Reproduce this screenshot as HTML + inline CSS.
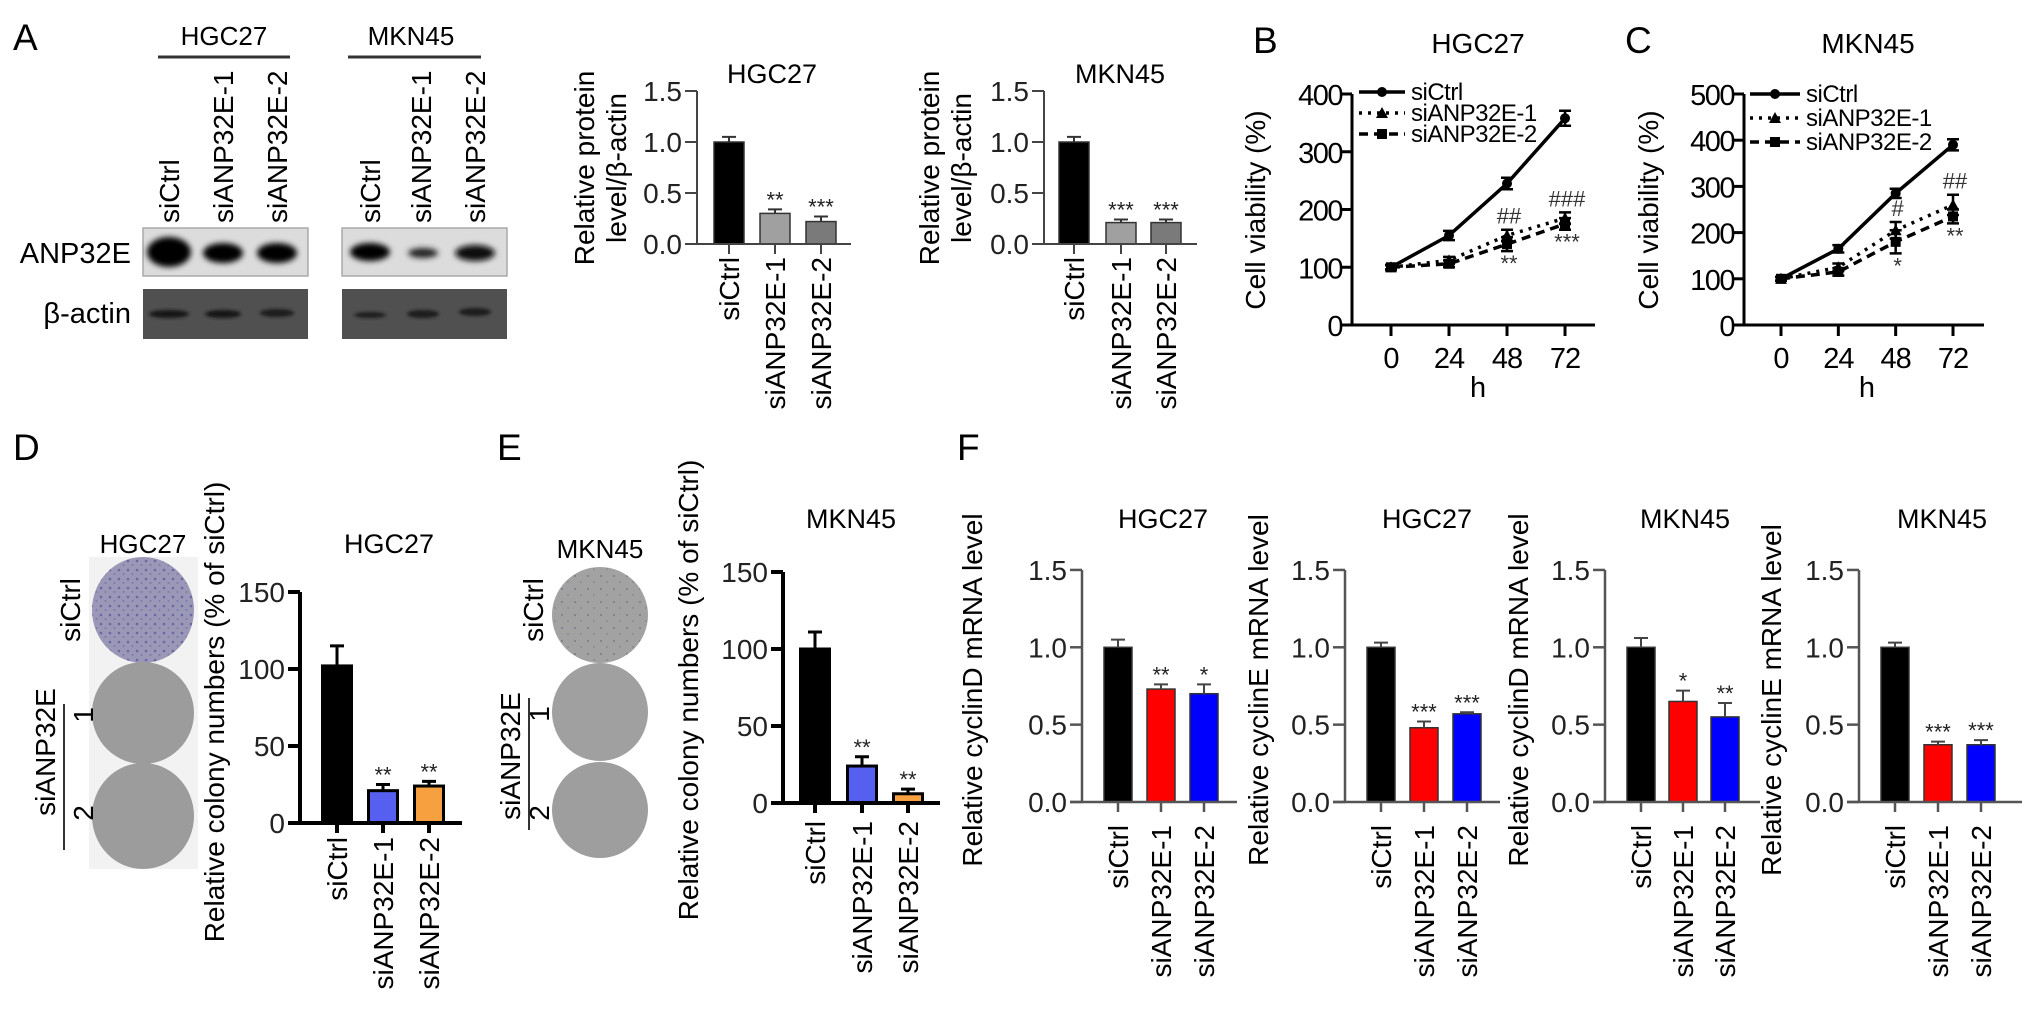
<!DOCTYPE html>
<html><head><meta charset="utf-8">
<style>
html,body{margin:0;padding:0;background:#fff;}
svg{display:block;font-family:"Liberation Sans",Arial,sans-serif;}
</style></head>
<body>
<svg id="fig" xmlns="http://www.w3.org/2000/svg" width="2032" height="1013" viewBox="0 0 2032 1013">
<defs>
<filter id="blur2" x="-50%" y="-50%" width="200%" height="200%"><feGaussianBlur stdDeviation="3"/></filter>
<filter id="blur1" x="-50%" y="-50%" width="200%" height="200%"><feGaussianBlur stdDeviation="1.5"/></filter>
<pattern id="speckP" width="9" height="9" patternUnits="userSpaceOnUse"><rect width="9" height="9" fill="#9a98b6"/><circle cx="2" cy="3" r="1.3" fill="#6a66a6"/><circle cx="6.5" cy="7" r="1" fill="#7c78b0"/></pattern>
<pattern id="speckG" width="13" height="13" patternUnits="userSpaceOnUse"><rect width="13" height="13" fill="#a2a2a2"/><circle cx="3" cy="4" r="0.9" fill="#6e6e7e"/><circle cx="9" cy="10" r="0.7" fill="#777"/></pattern>
</defs>
<text x="13" y="50" font-size="37">A</text>
<text x="1253" y="53" font-size="37">B</text>
<text x="1625" y="53" font-size="37">C</text>
<text x="13" y="460" font-size="37">D</text>
<text x="497" y="460" font-size="37">E</text>
<text x="957" y="460" font-size="37">F</text>

<g>
<text x="224" y="45" font-size="26" text-anchor="middle">HGC27</text>
<line x1="158" y1="57" x2="290" y2="57" stroke="#333" stroke-width="3"/>
<text x="411" y="45" font-size="26" text-anchor="middle">MKN45</text>
<line x1="348" y1="57" x2="481" y2="57" stroke="#333" stroke-width="3"/>
<text font-size="28" transform="translate(179,223) rotate(-90)">siCtrl</text>
<text font-size="28" transform="translate(233,223) rotate(-90)">siANP32E-1</text>
<text font-size="28" transform="translate(287,223) rotate(-90)">siANP32E-2</text>
<text font-size="28" transform="translate(380,223) rotate(-90)">siCtrl</text>
<text font-size="28" transform="translate(431,223) rotate(-90)">siANP32E-1</text>
<text font-size="28" transform="translate(485,223) rotate(-90)">siANP32E-2</text>
<text x="131" y="263" font-size="29" text-anchor="end">ANP32E</text>
<text x="131" y="323" font-size="29" text-anchor="end">β-actin</text>
<rect x="143" y="228" width="165" height="48" fill="#dcdcdc" stroke="#aaa" stroke-width="1.5"/>
<rect x="342" y="228" width="165" height="48" fill="#dcdcdc" stroke="#aaa" stroke-width="1.5"/>
<rect x="143" y="289" width="165" height="50" fill="#505050"/>
<rect x="342" y="289" width="165" height="50" fill="#505050"/>
<g filter="url(#blur2)">
<ellipse cx="169" cy="252" rx="22" ry="15" fill="#000"/>
<ellipse cx="223" cy="253" rx="20" ry="10" fill="#050505"/>
<ellipse cx="277" cy="253" rx="20" ry="10" fill="#050505"/>
<ellipse cx="370" cy="252" rx="20" ry="9" fill="#000"/>
<ellipse cx="423" cy="253" rx="15" ry="5" fill="#222"/>
<ellipse cx="475" cy="253" rx="20" ry="8" fill="#080808"/>
</g>
<g filter="url(#blur1)">
<ellipse cx="169" cy="314" rx="20" ry="4" fill="#181818"/>
<ellipse cx="223" cy="314" rx="18" ry="4" fill="#181818"/>
<ellipse cx="277" cy="313" rx="17" ry="4" fill="#1c1c1c"/>
<ellipse cx="370" cy="315" rx="16" ry="3" fill="#1c1c1c"/>
<ellipse cx="423" cy="314" rx="16" ry="4" fill="#1c1c1c"/>
<ellipse cx="475" cy="312" rx="16" ry="4" fill="#1c1c1c"/>
</g>
</g>

<g>
<rect x="89" y="557" width="109" height="312" fill="#f2f2f2"/>
<text x="143" y="553" font-size="26" text-anchor="middle">HGC27</text>
<ellipse cx="143" cy="610" rx="51" ry="53" fill="url(#speckP)"/>
<ellipse cx="143" cy="713" rx="51" ry="51" fill="#9c9c9c"/>
<ellipse cx="143" cy="816" rx="51" ry="53" fill="#9c9c9c"/>
<text font-size="28" text-anchor="middle" transform="translate(80,610) rotate(-90)">siCtrl</text>
<text font-size="28" text-anchor="middle" transform="translate(55,752) rotate(-90)">siANP32E</text>
<line x1="64" y1="704" x2="64" y2="850" stroke="#333" stroke-width="2"/>
<text font-size="28" text-anchor="middle" transform="translate(93,715) rotate(-90)">1</text>
<text font-size="28" text-anchor="middle" transform="translate(93,813) rotate(-90)">2</text>
</g>
<g>
<text x="600" y="558" font-size="26" text-anchor="middle">MKN45</text>
<ellipse cx="600" cy="615" rx="48" ry="48" fill="url(#speckG)"/>
<ellipse cx="600" cy="712" rx="48" ry="49" fill="#a0a0a0"/>
<ellipse cx="600" cy="810" rx="48" ry="48" fill="#9e9e9e"/>
<text font-size="28" text-anchor="middle" transform="translate(543,610) rotate(-90)">siCtrl</text>
<text font-size="28" text-anchor="middle" transform="translate(520,756) rotate(-90)">siANP32E</text>
<line x1="529" y1="698" x2="529" y2="830" stroke="#333" stroke-width="2"/>
<text font-size="28" text-anchor="middle" transform="translate(549,714) rotate(-90)">1</text>
<text font-size="28" text-anchor="middle" transform="translate(549,813) rotate(-90)">2</text>
</g>
</svg>
<script>
const categories = ['siCtrl','siANP32E-1','siANP32E-2'];
const protHGC = [1.0, 0.30, 0.22];
const protHGCErr = [0.05, 0.04, 0.05];
const protHGCSig = ['', '**', '***'];
const protMKN = [1.0, 0.21, 0.21];
const protMKNErr = [0.05, 0.03, 0.03];
const protMKNSig = ['', '***', '***'];
const colonyHGC = [102, 21, 24];
const colonyHGCErr = [13, 4, 3];
const colonyHGCSig = ['', '**', '**'];
const colonyMKN = [100, 24, 6];
const colonyMKNErr = [11, 6, 3];
const colonyMKNSig = ['', '**', '**'];
const cycDHGC = [1.0, 0.73, 0.70];
const cycDHGCErr = [0.05, 0.03, 0.06];
const cycDHGCSig = ['', '**', '*'];
const cycEHGC = [1.0, 0.48, 0.57];
const cycEHGCErr = [0.03, 0.04, 0.01];
const cycEHGCSig = ['', '***', '***'];
const cycDMKN = [1.0, 0.65, 0.55];
const cycDMKNErr = [0.06, 0.07, 0.09];
const cycDMKNSig = ['', '*', '**'];
const cycEMKN = [1.0, 0.37, 0.37];
const cycEMKNErr = [0.03, 0.02, 0.03];
const cycEMKNSig = ['', '***', '***'];
const ratioTicks = [0, 0.5, 1.0, 1.5];
const ratioTickLabels = ['0.0', '0.5', '1.0', '1.5'];
const colonyTicks = [0, 50, 100, 150];
const colonyTickLabels = ['0', '50', '100', '150'];

const hours = [0, 24, 48, 72];
const hourLabels = ['0', '24', '48', '72'];
const seriesNames = ['siCtrl', 'siANP32E-1', 'siANP32E-2'];
const viaHGCCtrl = [100, 155, 245, 358];
const viaHGCCtrlErr = [4, 8, 10, 13];
const viaHGCE1 = [100, 112, 155, 185];
const viaHGCE1Err = [4, 6, 10, 10];
const viaHGCE2 = [100, 106, 140, 175];
const viaHGCE2Err = [4, 6, 12, 10];
const viaHGCAbove = ['', '', '##', '###'];
const viaHGCBelow = ['', '', '**', '***'];
const viaHGCTicks = [0, 100, 200, 300, 400];
const viaMKNCtrl = [100, 165, 285, 390];
const viaMKNCtrlErr = [4, 8, 10, 12];
const viaMKNE1 = [100, 125, 205, 260];
const viaMKNE1Err = [4, 8, 18, 22];
const viaMKNE2 = [100, 115, 180, 235];
const viaMKNE2Err = [4, 8, 25, 15];
const viaMKNAbove = ['', '', '#', '##'];
const viaMKNBelow = ['', '', '*', '**'];
const viaMKNTicks = [0, 100, 200, 300, 400, 500];

const NS = 'http://www.w3.org/2000/svg';
const svg = document.getElementById('fig');
function mk(tag, attrs, parent) {
  const el = document.createElementNS(NS, tag);
  for (const k in attrs) el.setAttribute(k, attrs[k]);
  (parent || svg).appendChild(el);
  return el;
}

function barChart(o) {
  const g = mk('g', {});
  
  
  const yOf = v => o.y0 - v * o.k;
  o.vals.forEach((v, i) => {
    const cx = o.ax + o.centers[i];
    const top = yOf(v);
    const r = mk('rect', {x: cx - o.bw / 2, y: top, width: o.bw, height: o.y0 - top, fill: o.colors[i], stroke: o.stroke, 'stroke-width': o.bsw}, g);
    
    
    const et = yOf(v + o.errs[i]);
    const e = mk('path', {d: `M${cx},${top} L${cx},${et} M${cx - 7},${et} L${cx + 7},${et}`, stroke: o.errColor, 'stroke-width': o.esw, fill: 'none'}, g);
    
    
    if (o.sig[i]) {
      const s = mk('text', {x: cx, y: et - 2, 'font-size': 22, 'text-anchor': 'middle', fill: '#222'}, g);
      s.textContent = o.sig[i];
      
      
    }
    const tk = mk('line', {x1: cx, y1: o.y0, x2: cx, y2: o.y0 + 10, stroke: o.axisColor, 'stroke-width': o.asw}, g);
    
    
    const lb = mk('text', {'font-size': 28, 'text-anchor': 'end', transform: `translate(${cx + 10},${o.labelTop}) rotate(-90)`}, g);
    lb.textContent = categories[i];
    
    
  });
  const yTop = yOf(o.ticks[o.ticks.length - 1]);
  const ya = mk('line', {x1: o.ax, y1: yTop, x2: o.ax, y2: o.y0, stroke: o.axisColor, 'stroke-width': o.asw}, g);
  
  
  const xa = mk('line', {x1: o.ax - 12, y1: o.y0, x2: o.axEnd, y2: o.y0, stroke: o.axisColor, 'stroke-width': o.asw}, g);
  
  
  o.ticks.forEach((t, i) => {
    const y = yOf(t);
    const tl = mk('line', {x1: o.ax - 12, y1: y, x2: o.ax, y2: y, stroke: o.axisColor, 'stroke-width': o.asw}, g);
    
    
    const tt = mk('text', {x: o.ax - 15, y: y + 10, 'font-size': 28, 'text-anchor': 'end', fill: '#222'}, g);
    tt.textContent = o.tickLabels[i];
    
    
  });
  const ti = mk('text', {x: o.tx, y: o.ty, 'font-size': 27, 'text-anchor': 'middle'}, g);
  ti.textContent = o.title;
  
  
  o.ylab.forEach((line, j) => {
    const yl = mk('text', {'font-size': 28, 'text-anchor': 'middle', transform: `translate(${o.ylx[j] + 10},${o.yly}) rotate(-90)`}, g);
    yl.textContent = line;
    
    
  });
}

const greyStyle = {axisColor: '#444', asw: 2, stroke: '#333', bsw: 1.5, errColor: '#333', esw: 2};
const blackStyle = {axisColor: '#000', asw: 4, stroke: '#000', bsw: 3, errColor: '#000', esw: 3};

barChart(Object.assign({}, greyStyle, {name: 'protein-chart-hgc27', ax: 697, y0: 244, k: 102, axEnd: 851,
  centers: [32, 78, 124], bw: 30, vals: protHGC, errs: protHGCErr, sig: protHGCSig,
  colors: ['#000', '#a0a0a0', '#7a7a7a'], ticks: ratioTicks, tickLabels: ratioTickLabels,
  labelTop: 257, title: 'HGC27', tx: 772, ty: 83, ylab: ['Relative protein', 'level/β-actin'], ylx: [584, 616], yly: 168}));
barChart(Object.assign({}, greyStyle, {name: 'protein-chart-mkn45', ax: 1044, y0: 244, k: 102, axEnd: 1197,
  centers: [30, 77, 122], bw: 30, vals: protMKN, errs: protMKNErr, sig: protMKNSig,
  colors: ['#000', '#a0a0a0', '#7a7a7a'], ticks: ratioTicks, tickLabels: ratioTickLabels,
  labelTop: 257, title: 'MKN45', tx: 1120, ty: 83, ylab: ['Relative protein', 'level/β-actin'], ylx: [929, 961], yly: 168}));
barChart(Object.assign({}, blackStyle, {name: 'colony-chart-hgc27', ax: 300, y0: 823, k: 1.54, axEnd: 462,
  centers: [37, 83, 129], bw: 29, vals: colonyHGC, errs: colonyHGCErr, sig: colonyHGCSig,
  colors: ['#000', '#5660f0', '#f7a040'], ticks: colonyTicks, tickLabels: colonyTickLabels,
  labelTop: 837, title: 'HGC27', tx: 389, ty: 553, ylab: ['Relative colony numbers (% of siCtrl)'], ylx: [214], yly: 712}));
barChart(Object.assign({}, blackStyle, {name: 'colony-chart-mkn45', ax: 783, y0: 803, k: 1.54, axEnd: 940,
  centers: [32, 79, 125], bw: 29, vals: colonyMKN, errs: colonyMKNErr, sig: colonyMKNSig,
  colors: ['#000', '#5660f0', '#f7a040'], ticks: colonyTicks, tickLabels: colonyTickLabels,
  labelTop: 821, title: 'MKN45', tx: 851, ty: 528, ylab: ['Relative colony numbers (% of siCtrl)'], ylx: [688], yly: 690}));
const fStyle = {axisColor: '#555', asw: 2.5, stroke: '#333', bsw: 1.5, errColor: '#444', esw: 2};
const fCols = ['#000', '#ff0000', '#0000ff'];
barChart(Object.assign({}, fStyle, {name: 'cyclind-chart-hgc27', ax: 1082, y0: 802, k: 154.7, axEnd: 1237,
  centers: [36, 79, 122], bw: 28, vals: cycDHGC, errs: cycDHGCErr, sig: cycDHGCSig, colors: fCols,
  ticks: ratioTicks, tickLabels: ratioTickLabels, labelTop: 825, title: 'HGC27', tx: 1163, ty: 528,
  ylab: ['Relative cyclinD mRNA level'], ylx: [972], yly: 690}));
barChart(Object.assign({}, fStyle, {name: 'cycline-chart-hgc27', ax: 1345, y0: 802, k: 154.7, axEnd: 1500,
  centers: [36, 79, 122], bw: 28, vals: cycEHGC, errs: cycEHGCErr, sig: cycEHGCSig, colors: fCols,
  ticks: ratioTicks, tickLabels: ratioTickLabels, labelTop: 825, title: 'HGC27', tx: 1427, ty: 528,
  ylab: ['Relative cyclinE mRNA level'], ylx: [1258], yly: 690}));
barChart(Object.assign({}, fStyle, {name: 'cyclind-chart-mkn45', ax: 1605, y0: 802, k: 154.7, axEnd: 1760,
  centers: [36, 78, 120], bw: 28, vals: cycDMKN, errs: cycDMKNErr, sig: cycDMKNSig, colors: fCols,
  ticks: ratioTicks, tickLabels: ratioTickLabels, labelTop: 825, title: 'MKN45', tx: 1685, ty: 528,
  ylab: ['Relative cyclinD mRNA level'], ylx: [1518], yly: 690}));
barChart(Object.assign({}, fStyle, {name: 'cycline-chart-mkn45', ax: 1859, y0: 802, k: 154.7, axEnd: 2022,
  centers: [36, 79, 122], bw: 28, vals: cycEMKN, errs: cycEMKNErr, sig: cycEMKNSig, colors: fCols,
  ticks: ratioTicks, tickLabels: ratioTickLabels, labelTop: 825, title: 'MKN45', tx: 1942, ty: 528,
  ylab: ['Relative cyclinE mRNA level'], ylx: [1771], yly: 700}));

function marker(g, type, x, y) {
  let m;
  if (type === 0) m = mk('circle', {cx: x, cy: y, r: 5, fill: '#000'}, g);
  else if (type === 1) m = mk('path', {d: `M${x},${y - 6} L${x + 6},${y + 5} L${x - 6},${y + 5} Z`, fill: '#000'}, g);
  else m = mk('rect', {x: x - 5, y: y - 5, width: 10, height: 10, fill: '#000'}, g);
  
  
}
function lineChart(o) {
  const g = mk('g', {});
  
  
  const xOf = h => o.x0 + h * o.kx;
  const yOf = v => o.y0 - v * o.ky;
  const yTop = yOf(o.ticks[o.ticks.length - 1]);
  const ya = mk('line', {x1: o.ax, y1: yTop, x2: o.ax, y2: o.y0, stroke: '#000', 'stroke-width': 3}, g);
  
  
  const xa = mk('line', {x1: o.ax - 10, y1: o.y0, x2: o.axEnd, y2: o.y0, stroke: '#000', 'stroke-width': 3}, g);
  
  
  o.ticks.forEach(t => {
    const y = yOf(t);
    const tl = mk('line', {x1: o.ax - 10, y1: y, x2: o.ax, y2: y, stroke: '#000', 'stroke-width': 3}, g);
    
    
    const tt = mk('text', {x: o.ax - 10, y: y + 11, 'font-size': 29, 'text-anchor': 'end', 'letter-spacing': '-1.5'}, g);
    tt.textContent = String(t);
    
    
  });
  hours.forEach((h, i) => {
    const x = xOf(h);
    const tl = mk('line', {x1: x, y1: o.y0, x2: x, y2: o.y0 + 11, stroke: '#000', 'stroke-width': 3}, g);
    
    
    const tt = mk('text', {x: x, y: o.y0 + 43, 'font-size': 29, 'text-anchor': 'middle', 'letter-spacing': '-1'}, g);
    tt.textContent = hourLabels[i];
    
    
  });
  const xt = mk('text', {x: (xOf(hours[0]) + xOf(hours[3])) / 2, y: o.y0 + 72, 'font-size': 29, 'text-anchor': 'middle'}, g);
  xt.textContent = 'h';
  
  
  const yt = mk('text', {'font-size': 28, 'text-anchor': 'middle', transform: `translate(${o.ylx + 10},${o.yly}) rotate(-90)`}, g);
  yt.textContent = 'Cell viability (%)';
  
  
  const ti = mk('text', {x: o.tx, y: 53, 'font-size': 28, 'text-anchor': 'middle'}, g);
  ti.textContent = o.title;
  
  
  const dashes = ['none', '3,6', '9,6'];
  o.series.forEach((s, si) => {
    const pts = s.map((v, i) => xOf(hours[i]) + ',' + yOf(v)).join(' ');
    const pl = mk('polyline', {points: pts, fill: 'none', stroke: '#000', 'stroke-width': 3.5, 'stroke-dasharray': dashes[si]}, g);
    
    
    s.forEach((v, i) => {
      const x = xOf(hours[i]);
      const e = o.errs[si][i];
      const eb = mk('path', {d: `M${x},${yOf(v - e)} L${x},${yOf(v + e)} M${x - 6},${yOf(v - e)} L${x + 6},${yOf(v - e)} M${x - 6},${yOf(v + e)} L${x + 6},${yOf(v + e)}`, stroke: '#000', 'stroke-width': 2.5, fill: 'none'}, g);
      
      
      marker(g, si, x, yOf(v));
    });
    const ly = o.legY[si];
    const ll = mk('line', {x1: o.legX, y1: ly, x2: o.legX + o.legW, y2: ly, stroke: '#000', 'stroke-width': 3.5, 'stroke-dasharray': dashes[si]}, g);
    
    
    marker(g, si, o.legX + o.legW / 2, ly);
    const lt = mk('text', {x: o.legX + o.legW + 6, y: ly + 8, 'font-size': 24, 'letter-spacing': '-0.5'}, g);
    lt.textContent = seriesNames[si];
    
    
  });
  hours.forEach((h, i) => {
    const x = xOf(h);
    if (o.above[i]) {
      const top = Math.max(o.series[1][i] + o.errs[1][i], o.series[2][i] + o.errs[2][i]);
      const a = mk('text', {x: x + 2, y: yOf(top) - 6, 'font-size': 22, 'text-anchor': 'middle', fill: '#333'}, g);
      a.textContent = o.above[i];
      
      
    }
    if (o.below[i]) {
      const bot = Math.min(o.series[1][i] - o.errs[1][i], o.series[2][i] - o.errs[2][i]);
      const b = mk('text', {x: x + 2, y: yOf(bot) + 20, 'font-size': 22, 'text-anchor': 'middle', fill: '#333'}, g);
      b.textContent = o.below[i];
      
      
    }
  });
}
lineChart({name: 'viability-chart-hgc27', ax: 1352, axEnd: 1595, x0: 1391, kx: 2.417, y0: 325, ky: 0.5775,
  ticks: viaHGCTicks, series: [viaHGCCtrl, viaHGCE1, viaHGCE2], errs: [viaHGCCtrlErr, viaHGCE1Err, viaHGCE2Err],
  above: viaHGCAbove, below: viaHGCBelow, ylx: 1255, yly: 210, tx: 1478, title: 'HGC27',
  legX: 1359, legW: 46, legY: [92, 113, 134]});
lineChart({name: 'viability-chart-mkn45', ax: 1744, axEnd: 1984, x0: 1781, kx: 2.389, y0: 325, ky: 0.462,
  ticks: viaMKNTicks, series: [viaMKNCtrl, viaMKNE1, viaMKNE2], errs: [viaMKNCtrlErr, viaMKNE1Err, viaMKNE2Err],
  above: viaMKNAbove, below: viaMKNBelow, ylx: 1648, yly: 210, tx: 1868, title: 'MKN45',
  legX: 1750, legW: 50, legY: [94, 118, 142]});
</script>
</body></html>
